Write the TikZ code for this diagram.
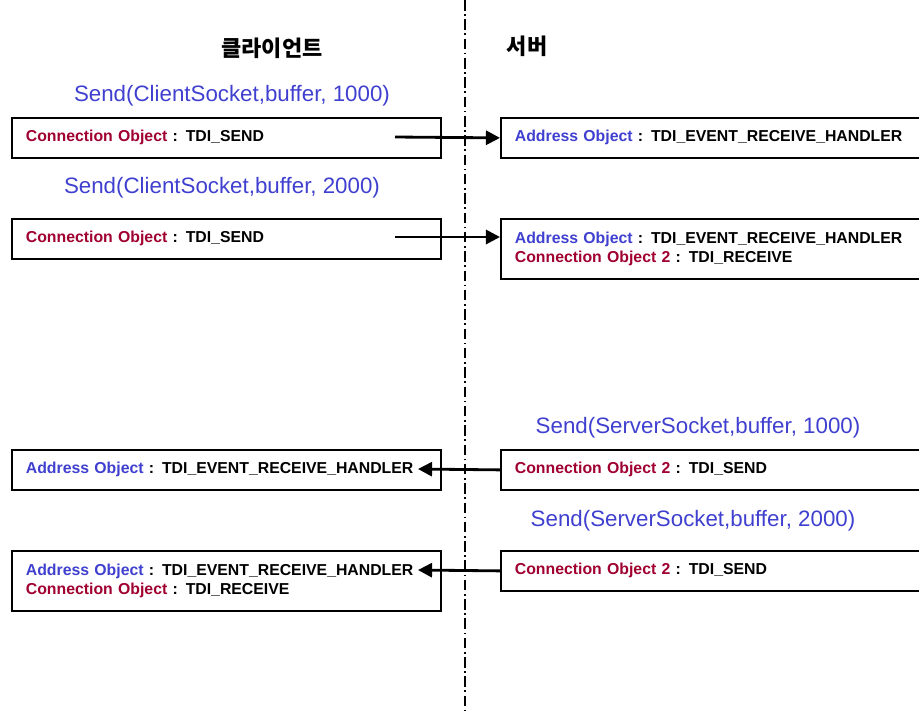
\documentclass[tikz,border=0pt]{standalone}
\usepackage{fontspec}
\setmainfont{Liberation Sans}
\newfontfamily\krfont{Noto Sans CJK KR}
\usetikzlibrary{arrows.meta, positioning}
\definecolor{callblue}{RGB}{64,64,208}
\definecolor{objred}{RGB}{160,0,48}
\newcommand{\addrobj}{\textcolor{callblue}{Address Object}}
\newcommand{\connobj}{\textcolor{objred}{Connection Object}}
\begin{document}
\begin{tikzpicture}[x=0.02cm, y=-0.02cm,
        objbox/.style={rectangle, draw=black, line width=1pt, anchor=north west,
                       minimum width=8.58cm, minimum height=0.8cm, text width=8.02cm,
                       inner xsep=0.28cm, inner ysep=0pt, align=left,
                       font=\fontsize{9}{11.3}\selectfont\bfseries},
        tallbox/.style={objbox, minimum height=1.2cm},
        call/.style={text=callblue, font=\fontsize{12.7}{14}\selectfont},
        side/.style={font=\krfont\bfseries\fontsize{12.5}{14}\selectfont},
        msg/.style={-{Triangle[length=8pt,width=8pt]}, line width=1.6pt},
        divider/.style={line width=0.7pt, dash pattern=on 6pt off 2pt on 1pt off 2pt}
    ]
    \useasboundingbox (0,0) rectangle (919,711);

    % client / server divider
    \coordinate (top) at (465,0);
    \coordinate (bottom) at (465,711);
    \draw[divider] (top) -- (bottom);

    \node[side] (client) at (272,48) {클라이언트};
    \node[side] (server) at (527,46) {서버};

    % client sends
    \node[call] (send1) at (232,96) {Send(ClientSocket,buffer, 1000)};
    \node[objbox]  (c1) at (11,117)  {\connobj{} : TDI\_SEND};
    \node[objbox]  (s1) at (500,117) {\addrobj{} : TDI\_EVENT\_RECEIVE\_HANDLER};

    \node[call] (send2) at (222,188) {Send(ClientSocket,buffer, 2000)};
    \node[objbox]  (c2) at (11,218)  {\connobj{} : TDI\_SEND};
    \node[tallbox] (s2) at (500,218) {\addrobj{} : TDI\_EVENT\_RECEIVE\_HANDLER\\
                                      \connobj{} \textcolor{objred}{2} : TDI\_RECEIVE};

    \coordinate (c1out) at (395,137);
    \coordinate (c2out) at (395,237);
    \draw[msg] (c1out) -- (s1.west);
    \draw[msg] (c2out) -- (c2out -| s2.west);

    % server sends
    \node[call] (send3) at (698,428) {Send(ServerSocket,buffer, 1000)};
    \node[objbox]  (c3) at (11,449)  {\addrobj{} : TDI\_EVENT\_RECEIVE\_HANDLER};
    \node[objbox]  (s3) at (500,449) {\connobj{} \textcolor{objred}{2} : TDI\_SEND};

    \node[call] (send4) at (693,521) {Send(ServerSocket,buffer, 2000)};
    \node[tallbox] (c4) at (11,550)  {\addrobj{} : TDI\_EVENT\_RECEIVE\_HANDLER\\
                                      \connobj{} : TDI\_RECEIVE};
    \node[objbox]  (s4) at (500,550) {\connobj{} \textcolor{objred}{2} : TDI\_SEND};

    \coordinate (c3in) at (418,469);
    \coordinate (c4in) at (418,570);
    \draw[msg] (s3.west) -- (c3in);
    \draw[msg] (s4.west) -- (c4in);
\end{tikzpicture}
\end{document}
